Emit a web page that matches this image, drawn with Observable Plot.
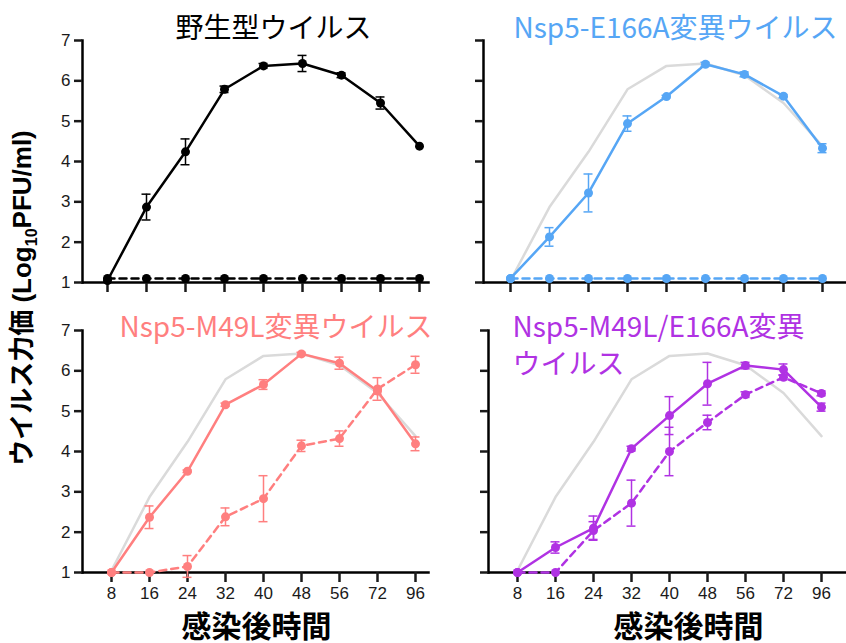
<!DOCTYPE html>
<html><head><meta charset="utf-8">
<script src="https://cdn.jsdelivr.net/npm/d3@7"></script>
<script src="https://cdn.jsdelivr.net/npm/@observablehq/plot@0.6"></script>
<style>
body{margin:0;background:#fff;}
#root{position:relative;width:846px;height:643px;overflow:hidden;background:#fff;}
.p{position:absolute;}
</style></head>
<body><div id="root"></div>
<script>
const hours = ["8","16","24","32","40","48","56","72","96"];
const yTicks = [1,2,3,4,5,6,7];

const titleWT = "野生型ウイルス";
const titleE166 = "Nsp5-E166A変異ウイルス";
const titleM49 = "Nsp5-M49L変異ウイルス";
const titleDbl1 = "Nsp5-M49L/E166A変異";
const titleDbl2 = "ウイルス";
const xTitle = "感染後時間";
const yTitleParts = ["ウイルス力価 (Log", "10", "PFU/ml)"];

// 野生型
const wtMean = [1.05, 2.87, 4.24, 5.79, 6.37, 6.43, 6.14, 5.45, 4.38];
const wtSd   = [0, 0.32, 0.32, 0.08, 0.06, 0.2, 0.06, 0.15, 0];
const wtDashMean = [1.1, 1.1, 1.1, 1.1, 1.1, 1.1, 1.1, 1.1, 1.1];
const wtDashSd   = [0, 0, 0, 0, 0, 0, 0, 0, 0];
// Nsp5-E166A
const e166Mean = [1.1, 2.13, 3.22, 4.94, 5.61, 6.41, 6.16, 5.62, 4.33];
const e166Sd   = [0, 0.23, 0.47, 0.19, 0.03, 0.05, 0.06, 0.04, 0.11];
const e166DashMean = [1.1, 1.1, 1.1, 1.1, 1.1, 1.1, 1.1, 1.1, 1.1];
const e166DashSd   = [0, 0, 0, 0, 0, 0, 0, 0, 0];
// Nsp5-M49L
const m49Mean = [1.0, 2.37, 3.51, 5.16, 5.66, 6.42, 6.19, 5.5, 4.19];
const m49Sd   = [0, 0.28, 0.03, 0.04, 0.12, 0.04, 0.15, 0.08, 0.17];
const m49DashMean = [1.0, 1.0, 1.15, 2.38, 2.83, 4.14, 4.32, 5.55, 6.15];
const m49DashSd   = [0, 0, 0.27, 0.22, 0.57, 0.14, 0.19, 0.28, 0.21];
// Nsp5-M49L/E166A
const dblMean = [1.0, 1.62, 2.1, 4.07, 4.89, 5.68, 6.13, 6.03, 5.1];
const dblSd   = [0, 0.14, 0.3, 0.06, 0.47, 0.53, 0.08, 0.14, 0.1];
const dblDashMean = [1.0, 1.0, 2.04, 2.72, 4.0, 4.72, 5.41, 5.84, 5.44];
const dblDashSd   = [0, 0, 0.22, 0.57, 0.6, 0.18, 0.07, 0.06, 0.06];

const colors = {wt:"#000000", e166:"#56a6f5", m49:"#ff7f7f", dbl:"#b032e3"};
const refGray = "#dadada";
const cjk = "Noto Sans CJK JP, sans-serif";

function rows(mean, sd){ return hours.map((h,i)=>({h, v:mean[i], sd:sd[i]})); }

function seriesMarks(data, color, dashed){
  const ebars = data.filter(d=>d.sd>0);
  return [
    Plot.line(data, {x:"h", y:"v", stroke:color, strokeWidth:2.5, strokeDasharray: dashed ? "7,5" : null}),
    Plot.ruleX(ebars, {x:"h", y1:d=>d.v-d.sd, y2:d=>d.v+d.sd, stroke:color, strokeWidth:1.5}),
    Plot.ruleY(ebars, {x1:"h", x2:"h", y:d=>d.v+d.sd, stroke:color, strokeWidth:1.5, insetLeft:-4.5, insetRight:-4.5}),
    Plot.ruleY(ebars, {x1:"h", x2:"h", y:d=>d.v-d.sd, stroke:color, strokeWidth:1.5, insetLeft:-4.5, insetRight:-4.5}),
    Plot.dot(data, {x:"h", y:"v", r:4.5, fill:color, stroke:"none"})
  ];
}

function panel(cfg){
  const marks = [
    Plot.frame({anchor:"left", stroke:"#000", strokeWidth:2.5}),
    Plot.frame({anchor:"bottom", stroke:"#000", strokeWidth:2.5}),
    Plot.axisY({ticks:yTicks, tickSize:8, tickPadding:4, strokeWidth:2.5, label:null,
      tickFormat: cfg.yLabels ? (d=>String(d)) : (()=>"")}),
    Plot.axisX({tickSize:10, tickPadding:4, strokeWidth:2.5, label:null,
      tickFormat: cfg.xLabels ? (d=>d) : (()=>"")})
  ];
  if (cfg.ref) marks.push(Plot.line(rows(wtMean, wtSd), {x:"h", y:"v", stroke:refGray, strokeWidth:2.5}));
  marks.push(...seriesMarks(cfg.dash, cfg.color, true));
  marks.push(...seriesMarks(cfg.solid, cfg.color, false));
  for (const t of cfg.titles) {
    marks.push(Plot.text([t.text], {text:d=>d, frameAnchor:"top-left", textAnchor:"start", lineAnchor:"bottom",
      dx:t.dx, dy:t.dy, fill:cfg.color, fontSize:28, fontFamily:cjk}));
  }
  if (cfg.xTitle) {
    marks.push(Plot.text([xTitle], {text:d=>d, frameAnchor:"bottom", textAnchor:"middle", lineAnchor:"bottom",
      dx:cfg.xTitle.dx, dy:64, fill:"#000", fontSize:30, fontWeight:"bold", fontFamily:cjk}));
  }
  const svg = Plot.plot({
    width:cfg.width, height:cfg.height,
    marginLeft:cfg.ml, marginRight:cfg.mr, marginTop:cfg.mt, marginBottom:cfg.mb,
    x:{type:"point", domain:hours, range:cfg.xr, padding:0, axis:null},
    y:{domain:[1,7], axis:null},
    style:{fontFamily:"Liberation Sans, Arial, sans-serif", fontSize:"17px", color:"#1a1a1a", overflow:"visible"},
    marks
  });
  svg.classList.add("p");
  svg.style.left = cfg.left+"px";
  svg.style.top = cfg.top+"px";
  document.getElementById("root").appendChild(svg);
}

panel({left:0, top:0, width:430, height:300, ml:82, mr:2, mt:40, mb:18, xr:[107,419],
  solid:rows(wtMean, wtSd), dash:rows(wtDashMean, wtDashSd), color:colors.wt, ref:false, yLabels:true, xLabels:false,
  titles:[{text:titleWT, dx:93, dy:-3}]});
panel({left:430, top:0, width:416, height:300, ml:53, mr:0, mt:40, mb:18, xr:[80,392],
  solid:rows(e166Mean, e166Sd), dash:rows(e166DashMean, e166DashSd), color:colors.e166, ref:true, yLabels:false, xLabels:false,
  titles:[{text:titleE166, dx:30, dy:-3}]});
panel({left:0, top:300, width:430, height:343, ml:82, mr:2, mt:30, mb:71, xr:[107,418],
  solid:rows(m49Mean, m49Sd), dash:rows(m49DashMean, m49DashSd), color:colors.m49, ref:true, yLabels:true, xLabels:true,
  titles:[{text:titleM49, dx:37, dy:6}], xTitle:{dx:1}});
panel({left:430, top:300, width:416, height:343, ml:58, mr:0, mt:30, mb:71, xr:[83,394],
  solid:rows(dblMean, dblSd), dash:rows(dblDashMean, dblDashSd), color:colors.dbl, ref:true, yLabels:false, xLabels:true,
  titles:[{text:titleDbl1, dx:24, dy:6}, {text:titleDbl2, dx:24, dy:43}], xTitle:{dx:21}});

// shared y-axis title, rotated, with subscript 10
const ySvg = Plot.plot({
  width:44, height:643, marginLeft:0, marginRight:0, marginTop:0, marginBottom:48,
  style:{overflow:"visible", background:"none"},
  marks:[Plot.text([yTitleParts.join("")], {text:d=>d, frameAnchor:"middle", rotate:-90, lineAnchor:"middle",
    fontSize:26, fontWeight:"bold", fill:"#000", fontFamily:"Liberation Sans, Noto Sans CJK JP, sans-serif"})]
});
const tEl = ySvg.querySelector('[aria-label="text"] text');
if (tEl) {
  tEl.textContent = "";
  const sel = d3.select(tEl);
  sel.append("tspan").text(yTitleParts[0]);
  sel.append("tspan").attr("font-size", 16).attr("dy", 6).text(yTitleParts[1]);
  sel.append("tspan").attr("dy", -6).text(yTitleParts[2]);
}
ySvg.classList.add("p");
ySvg.style.left = "0px";
ySvg.style.top = "0px";
document.getElementById("root").appendChild(ySvg);
</script></body></html>
